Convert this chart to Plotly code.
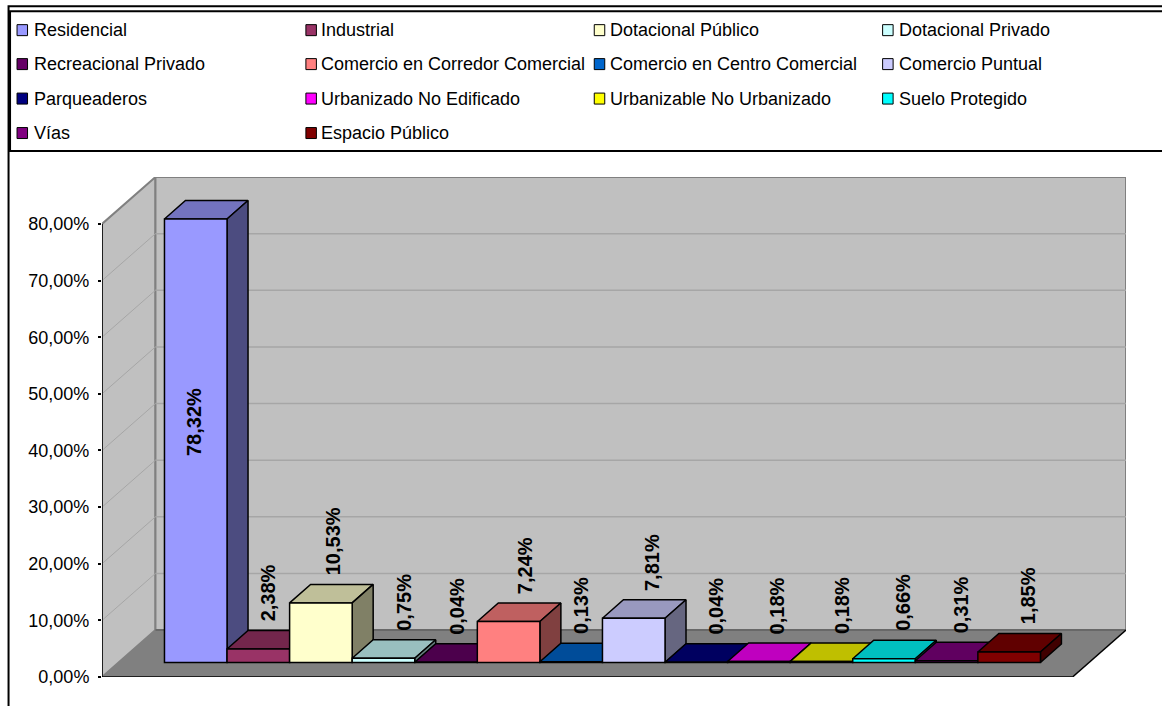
import plotly.graph_objects as go

# ---------- data ----------
CATEGORIES = ["Residencial", "Industrial", "Dotacional Público", "Dotacional Privado",
              "Recreacional Privado", "Comercio en Corredor Comercial", "Comercio en Centro Comercial", "Comercio Puntual",
              "Parqueaderos", "Urbanizado No Edificado", "Urbanizable No Urbanizado", "Suelo Protegido",
              "Vías", "Espacio Público"]
VALUES = [78.32, 2.38, 10.53, 0.75, 0.04, 7.24, 0.13, 7.81, 0.04, 0.18, 0.18, 0.66, 0.31, 1.85]
COLORS = ["#9999FF", "#993366", "#FFFFCC", "#CCFFFF", "#660066", "#FF8080", "#0066CC", "#CCCCFF",
          "#000080", "#FF00FF", "#FFFF00", "#00FFFF", "#800080", "#800000"]
TICK_VALUES = [0, 10, 20, 30, 40, 50, 60, 70, 80]

# ---------- style / geometry ----------
W, H = 1162, 706
PX_LEFT, PX_RIGHT, PX_TOP, PX_BOTTOM = 101.5, 1126, 177, 677.5
SLOT_PX = 62.6
BAR0_PX = 195.3
FONT = "Liberation Sans"

FLOOR_DY = 8.29                       # floor depth in value units
Y_PX = (PX_BOTTOM - PX_TOP) / (80 + FLOOR_DY)
X0 = (PX_LEFT - BAR0_PX) / SLOT_PX
X1 = (PX_RIGHT - BAR0_PX) / SLOT_PX
FLOOR_DX = 53.5 / SLOT_PX
BASE = 14.5 / Y_PX                    # bars stand part-way back on the floor
DEPTH_X = 21 / SLOT_PX
DEPTH_Y = 18.5 / Y_PX
LABEL_DX = [-1, 10, 13, 21, 11.5, 16, 10, 19, 20, 18, 20, 19, 14, 19]
LEGEND_ROW_Y = [30, 64, 98.5, 133]
LEGEND_SWATCH_X = [16.5, 305.5, 594, 882.5]
LEGEND_TEXT_X = [32, 320, 608.5, 897.5]


def shade(hex_color, k):
    r, g, b = (int(hex_color[i:i + 2], 16) for i in (1, 3, 5))
    return f"rgb({round(r * k)},{round(g * k)},{round(b * k)})"


def px(x):
    return (x - PX_LEFT) / (PX_RIGHT - PX_LEFT)


def py(y):
    return (PX_BOTTOM - y) / (PX_BOTTOM - PX_TOP)


fig = go.Figure()

# walls and floor
WALL = "#C0C0C0"
EDGE = "#808080"
GRID = "#A6A6A6"
xb = X0 + FLOOR_DX
xf = X1 - FLOOR_DX
top = 80 + FLOOR_DY
shapes = [
    dict(type="path", xref="x", yref="y", layer="below", fillcolor=WALL, line=dict(color=EDGE, width=2),
         path=f"M{X0},0 L{X0},80 L{xb},{top} L{xb},{FLOOR_DY} Z"),
    dict(type="path", xref="x", yref="y", layer="below", fillcolor=WALL, line=dict(color=EDGE, width=2),
         path=f"M{xb},{FLOOR_DY} L{xb},{top} L{X1},{top} L{X1},{FLOOR_DY} Z"),
]
for v in TICK_VALUES[1:-1]:
    shapes.append(dict(type="line", xref="x", yref="y", layer="below", line=dict(color=GRID, width=1),
                       x0=X0, y0=v, x1=xb, y1=v + FLOOR_DY))
    shapes.append(dict(type="line", xref="x", yref="y", layer="below", line=dict(color=GRID, width=1.5),
                       x0=xb, y0=v + FLOOR_DY, x1=X1, y1=v + FLOOR_DY))
shapes.append(dict(type="path", xref="x", yref="y", layer="below", fillcolor="#808080", line=dict(width=0),
                   path=f"M{X0},0 L{xb},{FLOOR_DY} L{X1},{FLOOR_DY} L{xf},0 Z"))
shapes.append(dict(type="line", xref="x", yref="y", layer="below", line=dict(color="#606060", width=1.5),
                   x0=xb, y0=FLOOR_DY, x1=X1, y1=FLOOR_DY))
# floor edges and value axis
for (a, b, c, d) in [(X0, 0, xf, 0), (xf, 0, X1, FLOOR_DY), (X0, 0, X0, 80)]:
    shapes.append(dict(type="line", xref="x", yref="y", layer="above", line=dict(color="#000000", width=1.5),
                       x0=a, y0=b, x1=c, y1=d))
# chart frame
shapes.append(dict(type="rect", xref="paper", yref="paper", line=dict(color="#000000", width=2),
                   x0=px(8), x1=px(1170), y0=py(6), y1=py(720)))
shapes.append(dict(type="rect", xref="paper", yref="paper", line=dict(color="#000000", width=2),
                   x0=px(9.5), x1=px(1170), y0=py(11), y1=py(151)))

annotations = []
for i, (name, v, c) in enumerate(zip(CATEGORIES, VALUES, COLORS)):
    left, right = i - 0.5, i + 0.5
    lo, hi = BASE, BASE + v
    z = 2 * i + 1
    # top face
    fig.add_trace(go.Scatter(
        x=[left, left + DEPTH_X, right + DEPTH_X, right, left],
        y=[hi, hi + DEPTH_Y, hi + DEPTH_Y, hi, hi],
        mode="lines", fill="toself", fillcolor=shade(c, 0.75), line=dict(color="#000000", width=1.5),
        showlegend=False, hoverinfo="skip", zorder=z))
    # side face
    fig.add_trace(go.Scatter(
        x=[right, right + DEPTH_X, right + DEPTH_X, right, right],
        y=[lo, lo + DEPTH_Y, hi + DEPTH_Y, hi, lo],
        mode="lines", fill="toself", fillcolor=shade(c, 0.5), line=dict(color="#000000", width=1.5),
        showlegend=False, hoverinfo="skip", zorder=z))
    # front face
    fig.add_trace(go.Bar(
        x=[i], y=[v], base=[BASE], width=1, name=name, showlegend=False,
        marker=dict(color=c, line=dict(color="#000000", width=1.5)), zorder=z + 1))
    label = f"{v:.2f}".replace(".", ",") + "%"
    inside = i == 0
    annotations.append(dict(
        x=i, y=BASE + DEPTH_Y + (v / 2 if inside else v), xref="x", yref="y", text=f"<b>{label}</b>",
        textangle=-90, showarrow=False, xanchor="center", yanchor="middle" if inside else "bottom",
        xshift=LABEL_DX[i], yshift=0 if inside else 8, borderpad=0,
        font=dict(family=FONT, size=20, color="#000000")))
    # legend entry: swatch + real text, laid out row by row
    col, row = i % 4, i // 4
    ry = LEGEND_ROW_Y[row]
    shapes.append(dict(type="rect", xref="paper", yref="paper", fillcolor=c,
                       line=dict(color="#000000", width=1),
                       x0=px(LEGEND_SWATCH_X[col]), x1=px(LEGEND_SWATCH_X[col] + 10.5),
                       y0=py(ry - 5.5), y1=py(ry + 5.5)))
    annotations.append(dict(
        x=px(LEGEND_TEXT_X[col]), y=py(ry), xref="paper", yref="paper", text=name, showarrow=False,
        xanchor="left", yanchor="middle", borderpad=0, font=dict(family=FONT, size=18, color="#000000")))

fig.update_layout(
    width=W, height=H, autosize=False, showlegend=False,
    margin=dict(l=PX_LEFT, r=W - PX_RIGHT, t=PX_TOP, b=H - PX_BOTTOM, pad=0),
    paper_bgcolor="#FFFFFF", plot_bgcolor="rgba(0,0,0,0)",
    barmode="overlay",
    font=dict(family=FONT, color="#000000"),
    shapes=shapes, annotations=annotations,
    xaxis=dict(range=[X0, X1], showgrid=False, zeroline=False, showticklabels=False, ticks="", showline=False),
    yaxis=dict(range=[0, top], showgrid=False, zeroline=False, showline=False,
               tickmode="array", tickvals=TICK_VALUES,
               ticktext=[f"{v:.2f}".replace(".", ",") + "%" for v in TICK_VALUES],
               ticks="outside", ticklen=3, tickwidth=1.5, tickcolor="#000000", ticklabelstandoff=5,
               tickfont=dict(family=FONT, size=18, color="#000000")),
)

fig.write_html("out.html", config={"displayModeBar": False},
               post_script="document.body.style.margin='0';")
